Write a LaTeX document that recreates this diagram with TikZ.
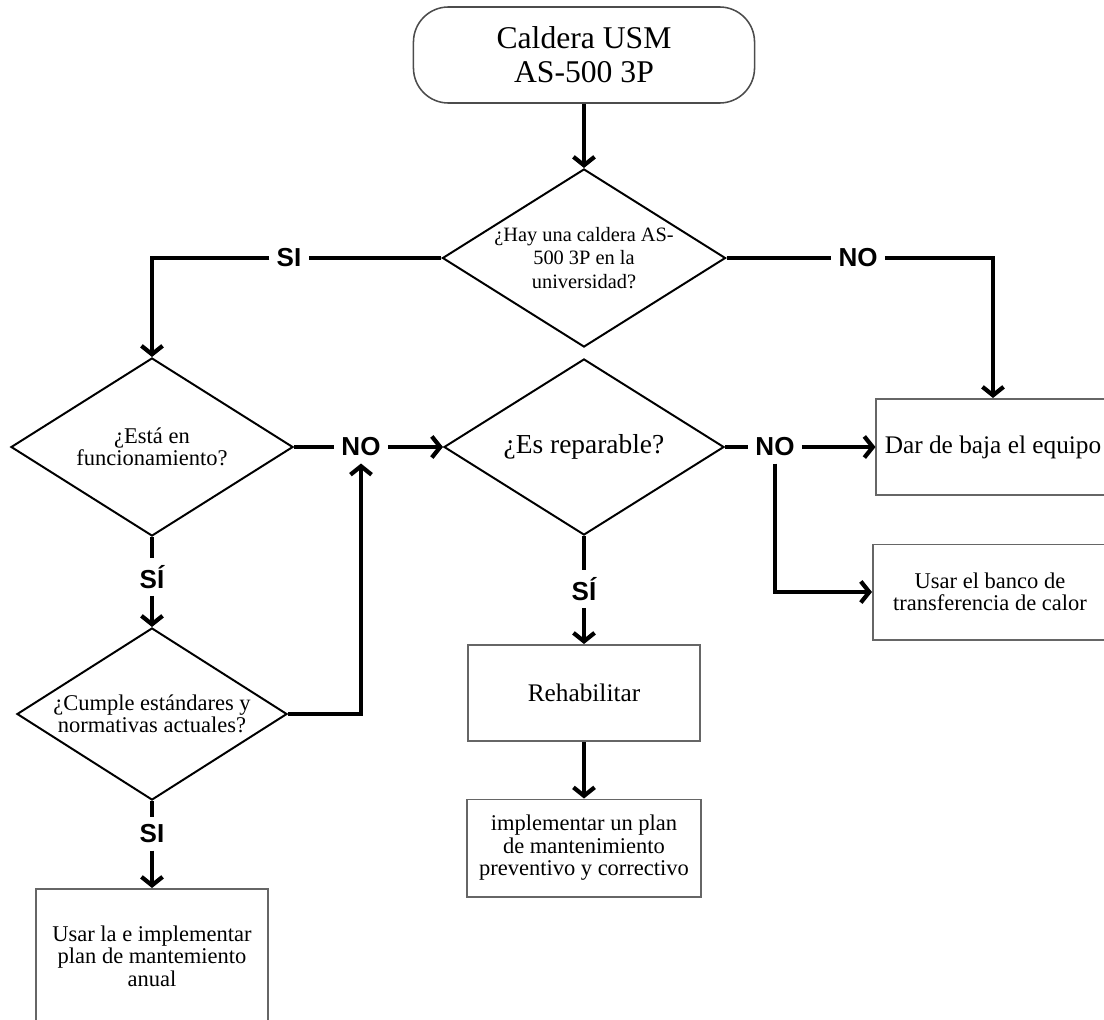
\documentclass[tikz,border=0pt]{standalone}
\usepackage{fontspec}
\setmainfont{Liberation Serif}
\newfontfamily\labfont{Liberation Sans}
\usetikzlibrary{shapes.geometric,arrows.meta}
\begin{document}
\begin{tikzpicture}[x=0.025cm,y=-0.025cm,
    term/.style={rectangle,rounded corners=0.875cm,draw=black!70,line width=1.1pt,align=center,
      minimum width=8.525cm,minimum height=2.4cm,font=\fontsize{22.5}{24}\selectfont},
    dec/.style={diamond,draw,line width=1.4pt,inner sep=0pt,align=center,font=\fontsize{16}{16}\selectfont},
    proc/.style={rectangle,draw=black!60,line width=1.4pt,align=center,font=\fontsize{16}{16}\selectfont},
    lab/.style={inner sep=5pt,font=\labfont\bfseries\fontsize{18.5}{18.5}\selectfont},
    ln/.style={line width=3pt},
    arr/.style={line width=3pt,-{Straight Barb[length=6pt,width=15pt]}}]
    \useasboundingbox (0,0) rectangle (1104,1019);
    \clip (0,0) rectangle (1104,1019);
    \node[term] (t) at (584,55) {Caldera USM\\AS-500 3P};
    \node[dec,aspect=1.59,minimum width=7.075cm,minimum height=4.45cm,font=\fontsize{14.5}{17}\selectfont]
      (d1) at (584,258) {¿Hay una caldera AS-\\500 3P en la\\universidad?};
    \node[dec,aspect=1.58,minimum width=7.05cm,minimum height=4.45cm] (d2) at (152,447) {¿Está en\\funcionamiento?};
    \node[dec,aspect=1.59,minimum width=7cm,minimum height=4.4cm,font=\fontsize{19.5}{20}\selectfont]
      (d3) at (584,447) {¿Es reparable?};
    \node[dec,aspect=1.57,minimum width=6.75cm,minimum height=4.3cm] (d4) at (152,714) {¿Cumple estándares y\\normativas actuales?};
    \node[proc,minimum width=5.775cm,minimum height=3.35cm] (b1) at (152,956) {Usar la e implementar\\plan de mantemiento\\anual};
    \node[proc,minimum width=5.825cm,minimum height=2.4cm,font=\fontsize{18}{18}\selectfont] (b2) at (993,447) {Dar de baja el equipo};
    \node[proc,minimum width=5.85cm,minimum height=2.375cm] (b3) at (990,592) {Usar el banco de\\transferencia de calor};
    \node[proc,minimum width=5.8cm,minimum height=2.4cm,font=\fontsize{18}{18}\selectfont] (b4) at (584,693) {Rehabilitar};
    \node[proc,minimum width=5.825cm,minimum height=2.425cm] (b5) at (584,848) {implementar un plan\\de mantenimiento\\preventivo y correctivo};
    \node[lab] (lsi0) at (289,258) {SI};
    \node[lab] (lno0) at (858,258) {NO};
    \node[lab] (lno1) at (361,447) {NO};
    \node[lab] (lsi1) at (152,577) {SÍ};
    \node[lab] (lsi2) at (152,834) {SI};
    \node[lab] (lno2) at (775,447) {NO};
    \node[lab] (lsi3) at (584,589) {SÍ};
    \draw[arr] (t) -- (d1);
    \draw[ln] (d1) -- (lsi0);
    \draw[arr] (lsi0) -| (d2);
    \draw[ln] (d1) -- (lno0);
    \draw[arr] (lno0) -| (b2);
    \draw[ln] (d2) -- (lno1);
    \draw[arr] (lno1) -- (d3);
    \draw[ln] (d2) -- (lsi1);
    \draw[arr] (lsi1) -- (d4);
    \draw[arr] (d4) -| (lno1);
    \draw[ln] (d4) -- (lsi2);
    \draw[arr] (lsi2) -- (b1);
    \draw[ln] (d3) -- (lno2);
    \draw[arr] (lno2) -- (b2);
    \draw[arr] (lno2) |- (b3);
    \draw[ln] (d3) -- (lsi3);
    \draw[arr] (lsi3) -- (b4);
    \draw[arr] (b4) -- (b5);
\end{tikzpicture}
\end{document}
